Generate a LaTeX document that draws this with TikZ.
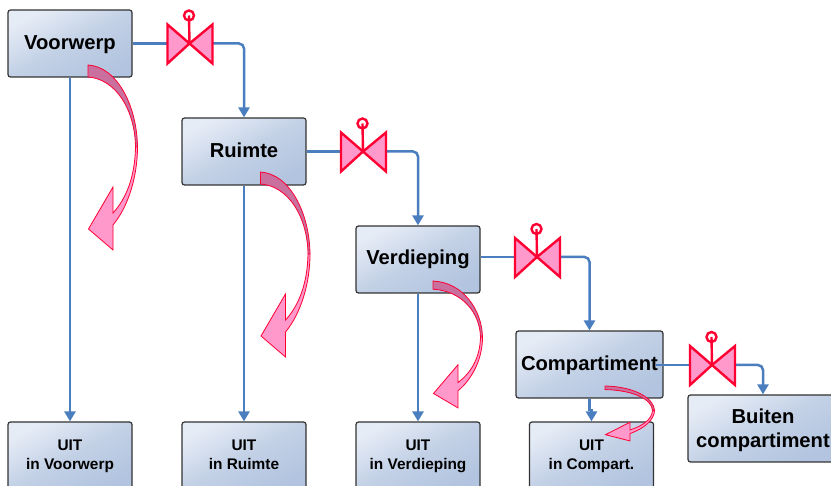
\documentclass[tikz,border=0pt]{standalone}
\usepackage{fontspec}
\setmainfont{Liberation Sans}
\usetikzlibrary{calc,arrows.meta}
\definecolor{flow}{HTML}{4A7EBF}
\definecolor{vred}{HTML}{FF0033}
\definecolor{vpink}{HTML}{FF99CC}
\definecolor{vdark}{HTML}{C9709F}
\definecolor{boxlight}{HTML}{E6ECF6}
\definecolor{boxmid}{HTML}{C3D1E6}
\definecolor{boxdark}{HTML}{B2C4DF}
\tikzset{
  x=1pt,y=-1pt,
  boxbase/.style={draw=black!80,line width=1.2pt,rounded corners=2.5pt,inner sep=0pt,
    shade,shading=axis,left color=boxlight,right color=boxdark,middle color=boxmid,shading angle=28,
    minimum height=67pt,align=center,font=\bfseries},
  mainbox/.style={boxbase,minimum width=124pt,text height=15pt,text depth=3pt,font=\fontsize{20.2}{24}\selectfont\bfseries},
  twolinebox/.style={mainbox,text height=43pt,text depth=4pt},
  uitbox/.style={boxbase,minimum width=124pt,text height=31pt,text depth=3pt,font=\fontsize{15.4}{19}\selectfont\bfseries},
  flowline/.style={draw=flow,line width=2.5pt,rounded corners=5pt},
  flowarrow/.style={flowline,-{Triangle[length=10pt,width=11pt]}},
  valvebody/.style={draw=vred,fill=vpink,line width=2.4pt,line join=miter},
  valvestem/.style={draw=vred,line width=2.4pt,fill=none},
  bendbody/.style={draw=vred,line width=.8pt,line join=miter},
  valve/.pic={
    \path[valvebody] (-22,-19) -- (0,0) -- (-22,20) -- cycle;
    \path[valvebody] (23,-19) -- (0,0) -- (23,20) -- cycle;
    \path[valvestem] (0,0) -- (-.5,-28);
    \path[valvestem] (-.5,-28) circle[radius=5];
  },
  bendarrow/.pic={
    \path[bendbody,fill=vdark] (0,0) .. controls (30,2) and (49,42) .. (49.5,82)
      -- (47.5,82) .. controls (47,45) and (28,14) .. (0,12) -- cycle;
    \path[bendbody,fill=vpink] (49.5,82) .. controls (49.5,112) and (40,142) .. (25,160)
      -- (25,185) -- (0.5,164) -- (25,122) -- (25,148) .. controls (38,134) and (47,112) .. (47.5,82) -- cycle;
  }
}
\begin{document}
\begin{tikzpicture}
\useasboundingbox (0,0) rectangle (831,486);
\clip (0,0) rectangle (831,486);
\fill[white] (0,0) rectangle (831,486);
% boxes
\node[mainbox] (voorwerp) at (70,43.5) {Voorwerp};
\node[mainbox] (ruimte) at (244,151.5) {Ruimte};
\node[mainbox,text height=14pt,text depth=4pt] (verdieping) at (418,259.5) {Verdieping};
\node[mainbox,minimum width=147pt] (compartiment) at (589.5,364.5) {Compartiment};
\node[twolinebox,minimum width=150pt] (buiten) at (763,428.5) {Buiten\\compartiment};
\node[uitbox] (uit1) at (70,455.5) {UIT\\in Voorwerp};
\node[uitbox] (uit2) at (244,455.5) {UIT\\in Ruimte};
\node[uitbox] (uit3) at (418,455.5) {UIT\\in Verdieping};
\node[uitbox] (uit4) at (591.5,455.5) {UIT\\in Compart.};
% valve centres
\coordinate (v1) at (189.5,43.5);
\coordinate (v2) at (363,151.5);
\coordinate (v3) at (537,257);
\coordinate (v4) at (712,365);
% connectors
\draw[flowline] (voorwerp.east) -- (v1);
\draw[flowarrow] (v1) -| (ruimte.north);
\draw[flowline] (ruimte.east) -- (v2);
\draw[flowarrow] (v2) -| (verdieping.north);
\draw[flowline] (verdieping.east |- v3) -- (v3);
\draw[flowarrow] (v3) -| (compartiment.north);
\draw[flowline] ($(compartiment.east)+(-8,0.5)$) -- (v4);
\draw[flowarrow] (v4) -| (buiten.north);
\draw[flowarrow] (voorwerp.south) -- (uit1.north);
\draw[flowarrow] (ruimte.south) -- (uit2.north);
\draw[flowarrow] (verdieping.south) -- (uit3.north);
\draw[flowarrow,rounded corners=0pt] (compartiment.south) |- ($(compartiment.south)!.5!(uit4.north)$) -| (uit4.north);
% valves
\pic at (v1) {valve};
\pic at (v2) {valve};
\pic at (v3) {valve};
\pic at (v4) {valve};
% curved arrows
\pic at (88,65) {bendarrow};
\pic at (260.5,172) {bendarrow};
\pic[yscale=.686] at (433,281) {bendarrow};
\pic[yscale=.297] at (605,386) {bendarrow};
\end{tikzpicture}
\end{document}
